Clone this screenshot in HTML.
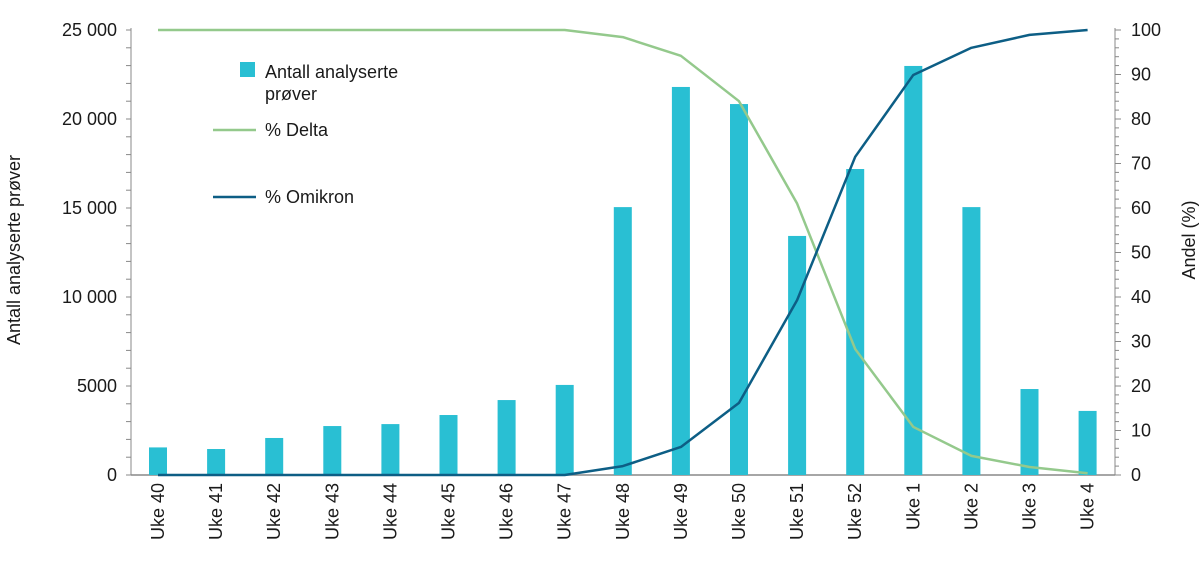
<!DOCTYPE html>
<html><head><meta charset="utf-8"><style>
body{margin:0;background:#fff}
text{font-family:"Liberation Sans",sans-serif;fill:#1a1a1a}
</style></head><body>
<svg id="c" width="1200" height="558" xmlns="http://www.w3.org/2000/svg"></svg>
<script>
const categories=["Uke 40","Uke 41","Uke 42","Uke 43","Uke 44","Uke 45","Uke 46","Uke 47","Uke 48","Uke 49","Uke 50","Uke 51","Uke 52","Uke 1","Uke 2","Uke 3","Uke 4"];
const samples=[1550,1460,2080,2750,2860,3370,4210,5060,15050,21800,20840,13430,17190,22980,15050,4830,3600];
const deltaPct=[100,100,100,100,100,100,100,100,98.4,94.2,84,61,28.3,10.8,4.3,1.8,0.4];
const omikronPct=[0,0,0,0,0,0,0,0,2,6.3,16.2,39.3,71.5,89.9,96,98.9,100];
const leftTicks=[0,5000,10000,15000,20000,25000];
const leftTickLabels=["0","5000","10 000","15 000","20 000","25 000"];
const rightTicks=[0,10,20,30,40,50,60,70,80,90,100];

const svg=document.getElementById('c');const NS="http://www.w3.org/2000/svg";
function mk(t,a,p){const e=document.createElementNS(NS,t);for(const k in a)e.setAttribute(k,a[k]);(p||svg).appendChild(e);return e;}
const X0=131,X1=1115,Y0=475,Y1=30;
const x=i=>158+i*58.1;
const yL=v=>Y0-(v/25000)*(Y0-Y1);
const yR=v=>Y0-(v/100)*(Y0-Y1);
const FS=18;

let ax=mk('line',{x1:X0,y1:Y1-2,x2:X0,y2:Y0,stroke:'#888','stroke-width':1});

ax=mk('line',{x1:X1,y1:Y1-2,x2:X1,y2:Y0,stroke:'#888','stroke-width':1});

ax=mk('line',{x1:X0,y1:Y0,x2:X1,y2:Y0,stroke:'#888','stroke-width':1.5});

for(let v=0;v<=25000;v+=1000){mk('line',{x1:X0-5,y1:yL(v),x2:X0,y2:yL(v),stroke:'#888'});}
for(let v=0;v<=100;v+=2){mk('line',{x1:X1,y1:yR(v),x2:X1+(v%10?4:6),y2:yR(v),stroke:'#888'});}
leftTicks.forEach((v,i)=>{const t=mk('text',{x:117,y:yL(v)+6,'text-anchor':'end','font-size':FS});t.textContent=leftTickLabels[i];
});
rightTicks.forEach(v=>{const t=mk('text',{x:1131,y:yR(v)+6,'font-size':FS});t.textContent=v;
});

samples.forEach((v,i)=>{const b=mk('rect',{x:x(i)-9,y:yL(v),width:18,height:Y0-yL(v),fill:'#29bfd3'});
});

function line(arr,col,name){const p=mk('polyline',{points:arr.map((v,i)=>x(i)+','+yR(v)).join(' '),fill:'none',stroke:col,'stroke-width':2.5,'stroke-linejoin':'round'});
}
line(deltaPct,'#94c98c','delta-line');
line(omikronPct,'#0d5e85','omikron-line');

categories.forEach((c,i)=>{const t=mk('text',{x:0,y:0,'text-anchor':'end','font-size':FS,transform:`translate(${x(i)+6},483) rotate(-90)`});t.textContent=c;
});

let t=mk('text',{'text-anchor':'middle','font-size':FS,transform:'translate(20,250) rotate(-90)'});t.textContent='Antall analyserte prøver';

t=mk('text',{'text-anchor':'middle','font-size':FS,transform:'translate(1195,240) rotate(-90)'});t.textContent='Andel (%)';


const lg=mk('g',{});
mk('rect',{x:240,y:62,width:15,height:15,fill:'#29bfd3'},lg);
t=mk('text',{x:265,y:78,'font-size':FS},lg);t.textContent='Antall analyserte';
t=mk('text',{x:265,y:100,'font-size':FS},lg);t.textContent='prøver';
mk('line',{x1:213,y1:130,x2:256,y2:130,stroke:'#94c98c','stroke-width':2.5},lg);
t=mk('text',{x:265,y:136,'font-size':FS},lg);t.textContent='% Delta';
mk('line',{x1:213,y1:197,x2:256,y2:197,stroke:'#0d5e85','stroke-width':2.5},lg);
t=mk('text',{x:265,y:203,'font-size':FS},lg);t.textContent='% Omikron';
</script>
</body></html>
